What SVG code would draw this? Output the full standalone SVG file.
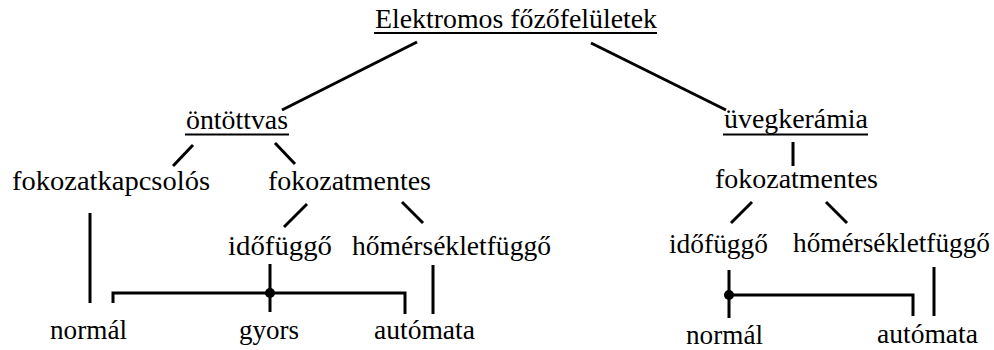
<svg xmlns="http://www.w3.org/2000/svg" width="994" height="350" viewBox="0 0 994 350">
  <style>
    text { font-family: "Liberation Serif", "Times New Roman", Times, Tinos, "Noto Serif", "DejaVu Serif", FreeSerif, Georgia, serif; font-size: 27px; fill: #000; }
    .ttl { font-size: 28px; }
    .ul { stroke: #000; stroke-width: 2; }
    .ln { stroke: #000; stroke-width: 3; fill: none; stroke-linecap: butt; }
    .dot { fill: #000; }
  </style>
  <rect width="994" height="350" fill="#fff"/>

  <!-- connectors -->
  <g id="connectors">
    <line class="ln" x1="417" y1="42" x2="282" y2="110"/>
    <line class="ln" x1="591" y1="43" x2="726" y2="110"/>
    <line class="ln" x1="193" y1="145" x2="173" y2="166"/>
    <line class="ln" x1="275" y1="143" x2="295" y2="164"/>
    <line class="ln" x1="793" y1="142" x2="793" y2="166"/>
    <line class="ln" x1="90" y1="213" x2="90" y2="303"/>
    <line class="ln" x1="307" y1="204" x2="284" y2="227"/>
    <line class="ln" x1="402" y1="202" x2="423" y2="223"/>
    <line class="ln" x1="752" y1="202" x2="731" y2="223"/>
    <line class="ln" x1="826" y1="202" x2="847" y2="223"/>
    <!-- left cast-iron branch -->
    <line class="ln" x1="270" y1="264" x2="270" y2="312"/>
    <polyline class="ln" points="113,303 113,293 405,293 405,314"/>
    <circle class="dot" cx="270" cy="293" r="5"/>
    <line class="ln" x1="433" y1="265" x2="433" y2="314"/>
    <!-- right glass-ceramic branch -->
    <line class="ln" x1="729" y1="270" x2="729" y2="318"/>
    <polyline class="ln" points="729,295 913,295 913,316"/>
    <circle class="dot" cx="729" cy="295" r="5"/>
    <line class="ln" x1="934" y1="267" x2="934" y2="316"/>
  </g>

  <g id="root">
    <text class="ttl" x="375" y="28" textLength="282" lengthAdjust="spacingAndGlyphs">Elektromos főzőfelületek</text>
    <line class="ul" x1="374" y1="33" x2="657" y2="33"/>
  </g>

  <g id="ontottvas">
    <text x="186" y="129" textLength="102" lengthAdjust="spacingAndGlyphs">öntöttvas</text>
    <line class="ul" x1="185" y1="134.5" x2="289" y2="134.5"/>
  </g>

  <g id="uvegkeramia">
    <text x="724" y="128" textLength="144" lengthAdjust="spacingAndGlyphs">üvegkerámia</text>
    <line class="ul" x1="723" y1="134.5" x2="868" y2="134.5"/>
  </g>

  <g id="fokozatkapcsolos">
    <text x="12" y="190" textLength="198" lengthAdjust="spacingAndGlyphs">fokozatkapcsolós</text>
  </g>
  <g id="fokozatmentes-1">
    <text x="268" y="190" textLength="163" lengthAdjust="spacingAndGlyphs">fokozatmentes</text>
  </g>
  <g id="fokozatmentes-2">
    <text x="715" y="188" textLength="163" lengthAdjust="spacingAndGlyphs">fokozatmentes</text>
  </g>

  <g id="idofuggo-1">
    <text x="228" y="255" textLength="104" lengthAdjust="spacingAndGlyphs">időfüggő</text>
  </g>
  <g id="homersekletfuggo-1">
    <text x="352" y="255" textLength="199" lengthAdjust="spacingAndGlyphs">hőmérsékletfüggő</text>
  </g>
  <g id="idofuggo-2">
    <text x="669" y="253" textLength="99" lengthAdjust="spacingAndGlyphs">időfüggő</text>
  </g>
  <g id="homersekletfuggo-2">
    <text x="793" y="252" textLength="197" lengthAdjust="spacingAndGlyphs">hőmérsékletfüggő</text>
  </g>

  <g id="normal-1">
    <text x="50" y="339" textLength="77" lengthAdjust="spacingAndGlyphs">normál</text>
  </g>
  <g id="gyors">
    <text x="239" y="339" textLength="60" lengthAdjust="spacingAndGlyphs">gyors</text>
  </g>
  <g id="automata-1">
    <text x="374" y="339" textLength="101" lengthAdjust="spacingAndGlyphs">autómata</text>
  </g>
  <g id="normal-2">
    <text x="686" y="344" textLength="77" lengthAdjust="spacingAndGlyphs">normál</text>
  </g>
  <g id="automata-2">
    <text x="877" y="343" textLength="101" lengthAdjust="spacingAndGlyphs">autómata</text>
  </g>
</svg>
